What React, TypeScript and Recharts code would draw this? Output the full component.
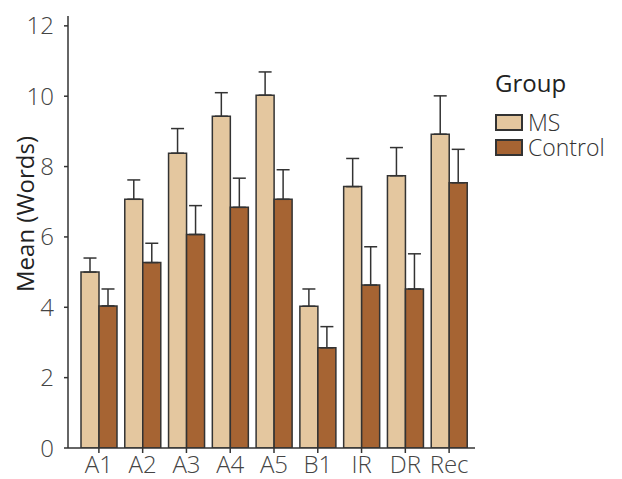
import React from "react";
import {
  BarChart,
  Bar,
  XAxis,
  YAxis,
  ErrorBar,
  Legend,
  Label,
} from "recharts";

// Recall tasks
const categories = ["A1", "A2", "A3", "A4", "A5", "B1", "IR", "DR", "Rec"];

// MS group: means and upper error (SE)
const msMeans = [5.0, 7.07, 8.38, 9.43, 10.03, 4.03, 7.43, 7.74, 8.92];
const msErr = [0.4, 0.55, 0.7, 0.67, 0.66, 0.49, 0.8, 0.8, 1.09];

// Control group
const ctrlMeans = [4.04, 5.27, 6.07, 6.84, 7.07, 2.85, 4.63, 4.52, 7.54];
const ctrlErr = [0.48, 0.55, 0.82, 0.83, 0.84, 0.6, 1.09, 1.0, 0.95];

const yTicks = [0, 2, 4, 6, 8, 10, 12];

const MS_FILL = "#E4C79F";
const CTRL_FILL = "#A66433";
const INK = "#333333";
const FONT = "'Open Sans', 'DejaVu Sans', sans-serif";

const chartData = categories.map((name, i) => ({
  name,
  ms: msMeans[i],
  msErr: [0, msErr[i]],
  ctrl: ctrlMeans[i],
  ctrlErr: [0, ctrlErr[i]],
}));

const legendItems = [
  { label: "MS", color: MS_FILL },
  { label: "Control", color: CTRL_FILL },
];

const GroupLegend = () => (
  <div style={{ width: 127, fontFamily: FONT, color: "#222" }}>
    <div style={{ fontSize: 24, lineHeight: "30px", marginBottom: 12 }}>Group</div>
    {legendItems.map((it) => (
      <div
        key={it.label}
        style={{ display: "flex", alignItems: "center", height: 25 }}
      >
        <div
          style={{
            boxSizing: "border-box",
            width: 28,
            height: 17,
            background: it.color,
            border: `2px solid ${INK}`,
            marginRight: 5,
          }}
        />
        <span
          style={{ fontSize: 23, lineHeight: "25px", fontWeight: 300, color: "#333" }}
        >
          {it.label}
        </span>
      </div>
    ))}
  </div>
);

const App = () => {
  return (
    <div style={{ position: "absolute", left: 0, top: 0 }}>
      <BarChart
        width={622}
        height={479}
        data={chartData}
        margin={{ top: 16, right: 20, left: 0, bottom: 0 }}
        barCategoryGap={4}
        barGap={0}
      >
        <XAxis
          dataKey="name"
          height={31}
          padding={{ left: 9, right: 4 }}
          tickSize={5}
          tickMargin={3}
          axisLine={{ stroke: INK, strokeWidth: 1.5 }}
          tickLine={{ stroke: INK, strokeWidth: 1.5 }}
          tick={{ fill: "#444", fontSize: 24, fontFamily: FONT, fontWeight: 300 }}
          interval={0}
        />
        <YAxis
          width={68}
          domain={[0, 12.28]}
          ticks={yTicks}
          allowDataOverflow
          tickSize={4}
          tickMargin={10}
          axisLine={{ stroke: INK, strokeWidth: 1.5 }}
          tickLine={{ stroke: INK, strokeWidth: 1.5 }}
          tick={{ fill: "#444", fontSize: 24, fontFamily: FONT, fontWeight: 300 }}
        >
          <Label
            content={() => (
              <text
                x={24}
                y={214}
                transform="rotate(-90 24 214)"
                textAnchor="middle"
                dominantBaseline="central"
                fill="#222"
                fontSize={24}
                fontFamily={FONT}
              >
                Mean (Words)
              </text>
            )}
          />
        </YAxis>
        <Legend
          layout="vertical"
          align="right"
          verticalAlign="top"
          content={<GroupLegend />}
          wrapperStyle={{ top: 68, left: 495 }}
        />
        <Bar
          dataKey="ms"
          name="MS"
          fill={MS_FILL}
          stroke={INK}
          strokeWidth={1.5}
          isAnimationActive={false}
        >
          <ErrorBar dataKey="msErr" width={6.5} stroke={INK} strokeWidth={1.5} />
        </Bar>
        <Bar
          dataKey="ctrl"
          name="Control"
          fill={CTRL_FILL}
          stroke={INK}
          strokeWidth={1.5}
          isAnimationActive={false}
        >
          <ErrorBar dataKey="ctrlErr" width={6.5} stroke={INK} strokeWidth={1.5} />
        </Bar>
      </BarChart>
    </div>
  );
};

export default App;
